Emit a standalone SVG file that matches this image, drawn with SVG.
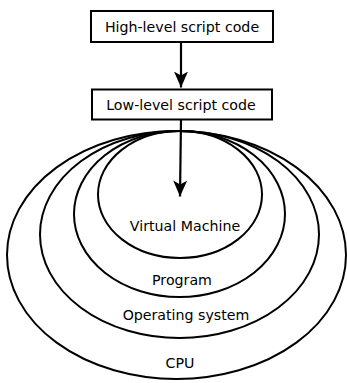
<svg xmlns="http://www.w3.org/2000/svg" width="347" height="383" viewBox="0 0 347 383">
  <style>
    .box { fill: #fff; stroke: #000; stroke-width: 2; }
    .ring { fill: none; stroke: #000; stroke-width: 2; }
    .lbl { font-family: "DejaVu Sans", sans-serif; font-size: 14.2px; fill: #000; text-anchor: middle; }
    .edge { stroke: #000; stroke-width: 2.2; fill: none; }
  </style>
  <defs>
    <marker id="arrow" viewBox="0 0 16 14" refX="16" refY="7" markerWidth="16" markerHeight="14" markerUnits="userSpaceOnUse" orient="auto">
      <path d="M0,0 L16,7 L0,14 L4,7 Z" fill="#000"/>
    </marker>
  </defs>

  <!-- nested layers, outermost first -->
  <g id="cpu">
    <ellipse class="ring" cx="176.5" cy="255" rx="169.5" ry="124"/>
    <text class="lbl" x="180" y="368">CPU</text>
  </g>
  <g id="os">
    <ellipse class="ring" cx="179.5" cy="234.5" rx="139.5" ry="103.5"/>
    <text class="lbl" x="186" y="320">Operating system</text>
  </g>
  <g id="program">
    <ellipse class="ring" cx="179.5" cy="214" rx="105.5" ry="83"/>
    <text class="lbl" x="182" y="285">Program</text>
  </g>
  <g id="vm">
    <ellipse class="ring" cx="180" cy="194.5" rx="82" ry="63.5"/>
    <text class="lbl" x="185" y="231">Virtual Machine</text>
  </g>

  <!-- script code boxes -->
  <g id="high-level">
    <rect class="box" x="91" y="11" width="182" height="31"/>
    <text class="lbl" x="182" y="31.5">High-level script code</text>
  </g>
  <g id="low-level">
    <rect class="box" x="92" y="89.5" width="180" height="30"/>
    <text class="lbl" x="181" y="110">Low-level script code</text>
  </g>

  <g id="connectors">
    <path class="edge" d="M181,42 L181,87.5" marker-end="url(#arrow)"/>
    <path class="edge" d="M181,119.5 L180,196.5" marker-end="url(#arrow)"/>
  </g>
</svg>
